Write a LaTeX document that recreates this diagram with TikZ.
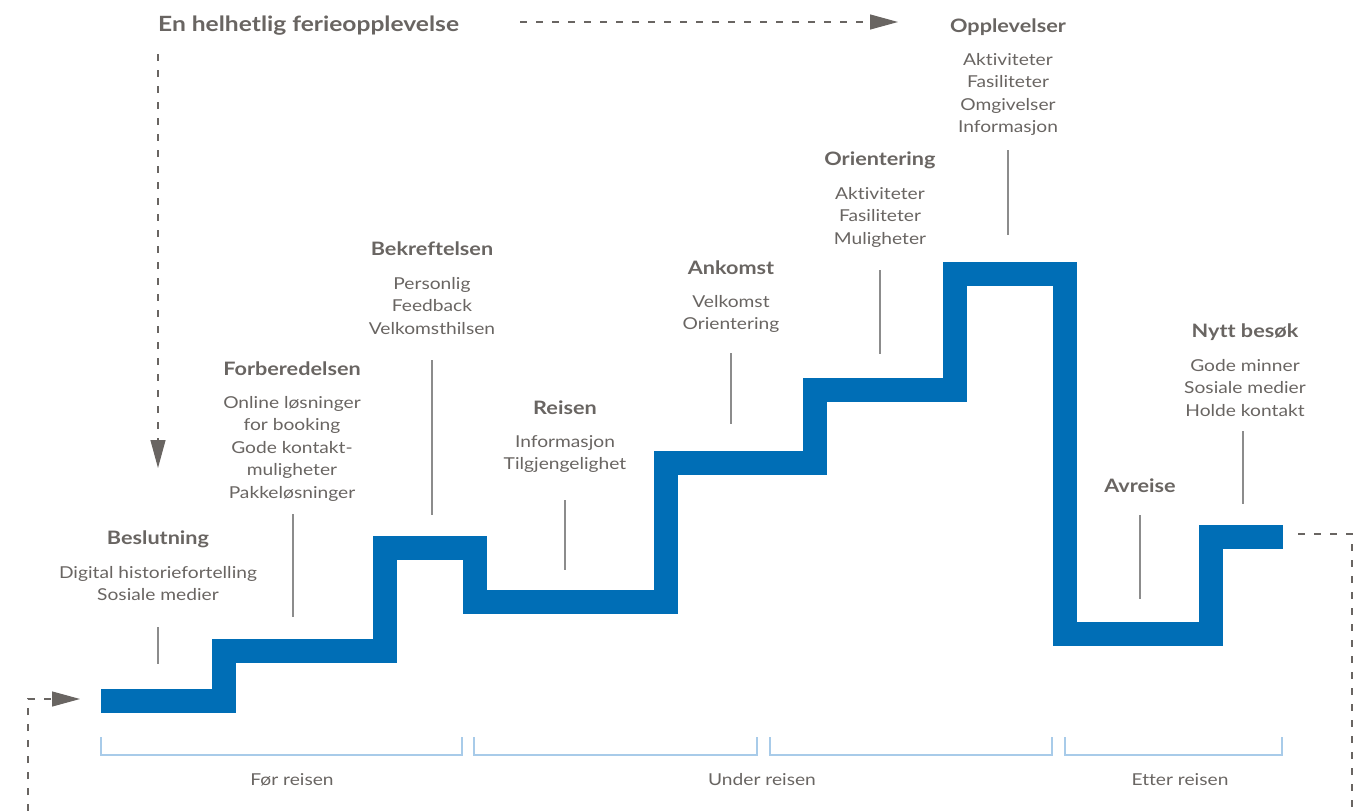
\documentclass[tikz,border=0pt]{standalone}
\usepackage{fontspec}
\setmainfont{Lato}[FakeStretch=1.17, Ligatures={NoCommon,NoContextual}]
\usetikzlibrary{arrows.meta}
\definecolor{stepblue}{RGB}{0,110,182}
\definecolor{txtgray}{RGB}{105,101,98}
\definecolor{lngray}{RGB}{140,140,140}
\definecolor{brblue}{RGB}{168,203,233}
\tikzset{
  hd/.style={font=\fontsize{18.5}{21}\selectfont\bfseries, text=txtgray, inner sep=0pt, anchor=base},
  it/.style={font=\fontsize{16.4}{20}\selectfont, text=txtgray, inner sep=0pt, anchor=base},
  stepline/.style={draw=stepblue, line width=24pt, line join=miter, line cap=butt},
  leader/.style={draw=lngray, line width=1.3pt},
  flow/.style={draw=txtgray, line width=1.2pt, dash pattern=on 7pt off 9pt},
  tipped/.style={-{Triangle[length=28pt,width=15pt]}},
  brace/.style={draw=brblue, line width=1.5pt}
}
\begin{document}
\begin{tikzpicture}[x=1pt,y=-1pt]
\useasboundingbox (0,0) rectangle (1366,811);
% main staircase
\draw[stepline] (101,700.5) -- (223.5,700.5) -- (223.5,650.5) -- (384.5,650.5)
  -- (384.5,547.5) -- (475,547.5) -- (475,601.5) -- (665.5,601.5)
  -- (665.5,462.5) -- (814.5,462.5) -- (814.5,389.5) -- (955,389.5)
  -- (955,273.5) -- (1065,273.5) -- (1065,634) -- (1211,634)
  -- (1211,536.5) -- (1283,536.5);
% title and flow arrows
\node[font=\fontsize{21}{24}\selectfont\bfseries, text=txtgray, inner sep=0pt, anchor=base west] (title) at (158,31) {En helhetlig ferieopplevelse};
\coordinate (ts) at (520,22); \coordinate (tt) at (898,22);
\draw[flow,tipped] (ts) -- (tt);
\coordinate (ds) at (158,54); \coordinate (dt) at (158,468);
\draw[flow,tipped] (ds) -- (dt);
\coordinate (ls) at (28,811); \coordinate (lt) at (80,699);
\draw[flow,tipped] (ls) |- (lt);
\coordinate (rs) at (1298,534); \coordinate (re) at (1352,811);
\draw[flow] (rs) -| (re);
% labels
\node[hd] (h1) at (158,544) {Beslutning};
\foreach \t [count=\i from 0] in {Digital historiefortelling, Sosiale medier}
  \node[it] (a1-\i) at (158,{578+22.5*\i}) {\t};
\node[hd] (h2) at (292,375) {Forberedelsen};
\foreach \t [count=\i from 0] in {Online løsninger, for booking, Gode kontakt-, muligheter, Pakkeløsninger}
  \node[it] (a2-\i) at (292,{408+22.5*\i}) {\t};
\node[hd] (h3) at (432,255) {Bekreftelsen};
\foreach \t [count=\i from 0] in {Personlig, Feedback, Velkomsthilsen}
  \node[it] (a3-\i) at (432,{289+22.5*\i}) {\t};
\node[hd] (h4) at (565,414) {Reisen};
\foreach \t [count=\i from 0] in {Informasjon, Tilgjengelighet}
  \node[it] (a4-\i) at (565,{447+22.5*\i}) {\t};
\node[hd] (h5) at (731,274) {Ankomst};
\foreach \t [count=\i from 0] in {Velkomst, Orientering}
  \node[it] (a5-\i) at (731,{307+22.5*\i}) {\t};
\node[hd] (h6) at (880,165) {Orientering};
\foreach \t [count=\i from 0] in {Aktiviteter, Fasiliteter, Muligheter}
  \node[it] (a6-\i) at (880,{199+22.5*\i}) {\t};
\node[hd] (h7) at (1008,32) {Opplevelser};
\foreach \t [count=\i from 0] in {Aktiviteter, Fasiliteter, Omgivelser, Informasjon}
  \node[it] (a7-\i) at (1008,{65+22.5*\i}) {\t};
\node[hd] (h8) at (1140,492) {Avreise};
\node[hd] (h9) at (1245,337) {Nytt besøk};
\foreach \t [count=\i from 0] in {Gode minner, Sosiale medier, Holde kontakt}
  \node[it] (a9-\i) at (1245,{371+22.5*\i}) {\t};
% leader lines
\coordinate (l1a) at (158,627); \coordinate (l1b) at (158,664); \draw[leader] (l1a) -- (l1b);
\coordinate (l2a) at (293,514); \coordinate (l2b) at (293,617); \draw[leader] (l2a) -- (l2b);
\coordinate (l3a) at (432,360); \coordinate (l3b) at (432,515); \draw[leader] (l3a) -- (l3b);
\coordinate (l4a) at (565,500); \coordinate (l4b) at (565,570); \draw[leader] (l4a) -- (l4b);
\coordinate (l5a) at (731,353); \coordinate (l5b) at (731,424); \draw[leader] (l5a) -- (l5b);
\coordinate (l6a) at (880,270); \coordinate (l6b) at (880,354); \draw[leader] (l6a) -- (l6b);
\coordinate (l7a) at (1008,150); \coordinate (l7b) at (1008,235); \draw[leader] (l7a) -- (l7b);
\coordinate (l8a) at (1140,515); \coordinate (l8b) at (1140,599); \draw[leader] (l8a) -- (l8b);
\coordinate (l9a) at (1243,431); \coordinate (l9b) at (1243,504); \draw[leader] (l9a) -- (l9b);
% phase brackets
\draw[brace] (101,737) -- (101,755) -- (462,755) -- (462,737);
\draw[brace] (474,737) -- (474,755) -- (757,755) -- (757,737);
\draw[brace] (770,737) -- (770,755) -- (1052,755) -- (1052,737);
\draw[brace] (1065,737) -- (1065,755) -- (1282,755) -- (1282,737);
\node[it] (p1) at (292,785) {Før reisen};
\node[it] (p2) at (762,785) {Under reisen};
\node[it] (p3) at (1180,785) {Etter reisen};
\end{tikzpicture}
\end{document}
